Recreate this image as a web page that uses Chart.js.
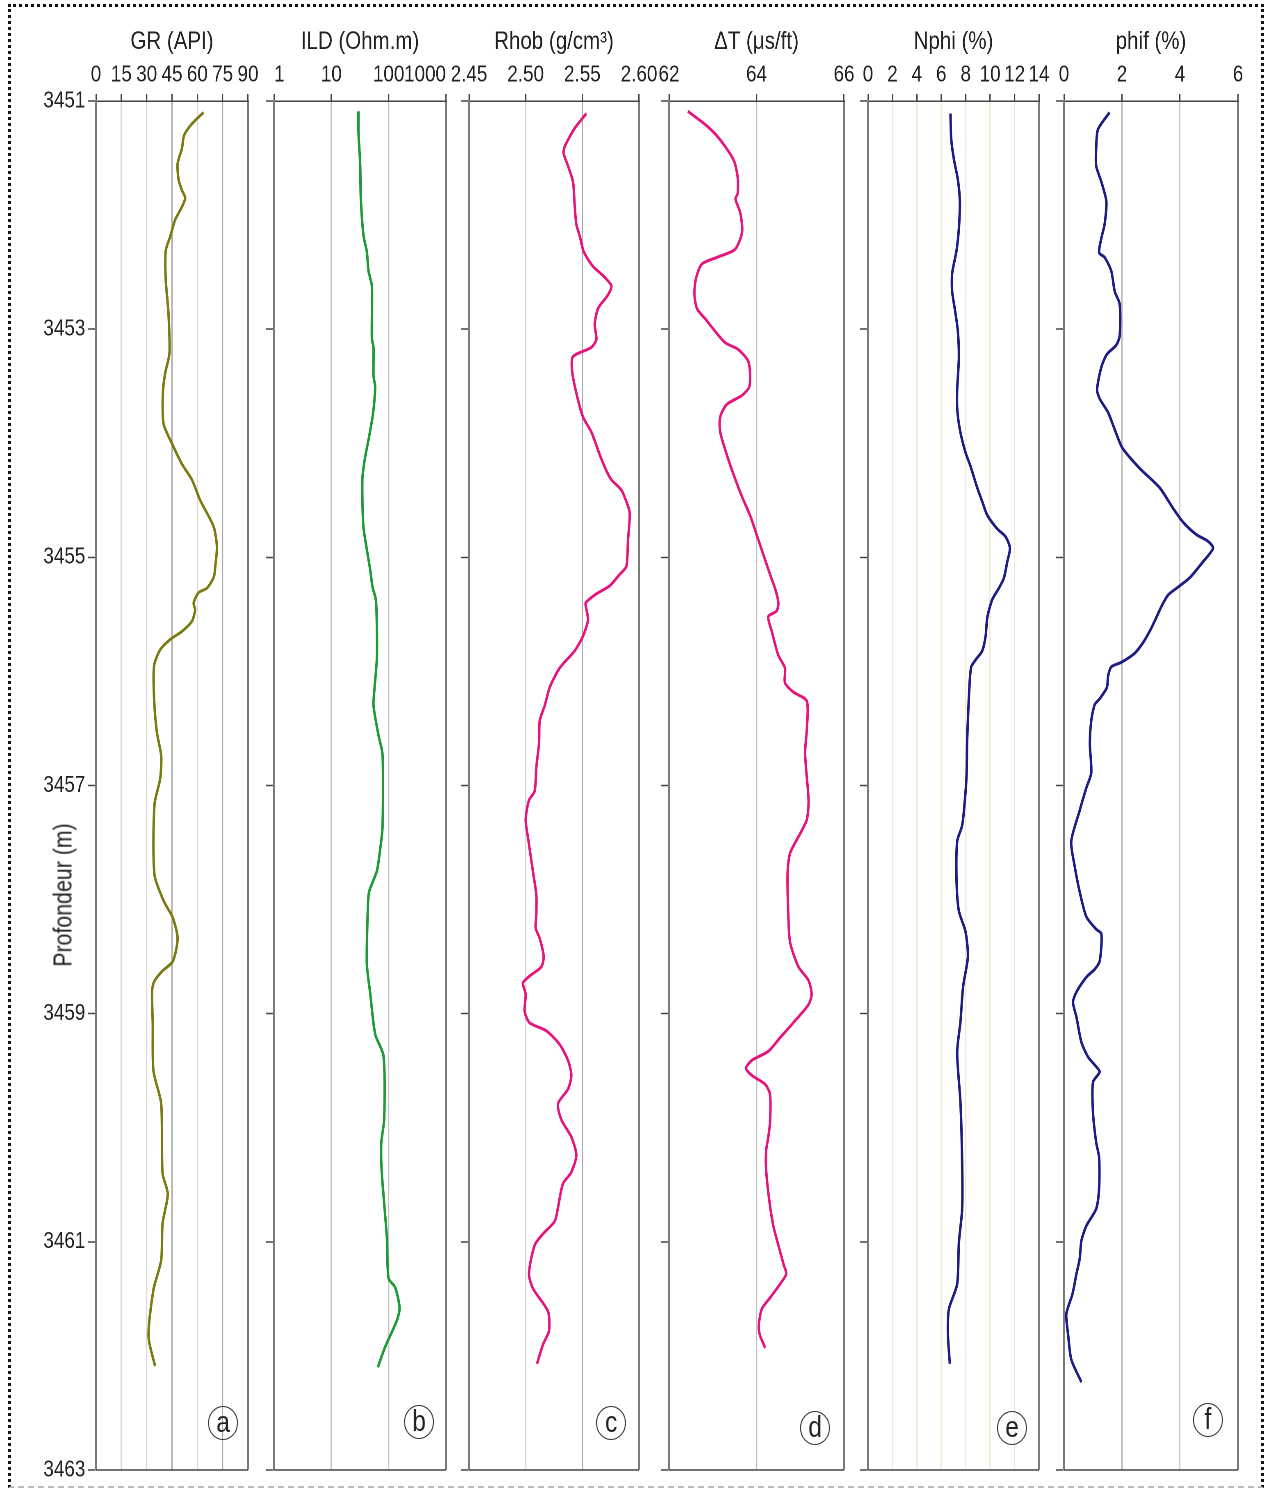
<!DOCTYPE html>
<html>
<head>
<meta charset="utf-8">
<script src="https://cdn.jsdelivr.net/npm/chart.js@4"></script>
<style>
  html, body { margin:0; padding:0; background:#fff; }
  body { width:1269px; height:1488px; position:relative; overflow:hidden;
         font-family:"Liberation Sans Narrow","Liberation Sans",Arial,sans-serif; color:#222; }
  #wrap canvas { position:absolute; top:0; transform-origin:0 0; }
  #frame { position:absolute; left:8px; top:4px; width:1250px; height:1479px;
           border-top:3px dotted #111; border-left:3px dotted #111; border-right:3px dotted #111;
           border-bottom:2px dashed #bbb; box-sizing:content-box; }
  #ytitle { position:absolute; left:63px; top:895px; transform:translate(-50%,-50%) rotate(-90deg) scaleX(0.82);
            font-size:26px; white-space:nowrap; color:#222; }
  .tag { position:absolute; width:28px; height:32px; border:1.3px solid #333; border-radius:50%;
         transform:translate(-50%,-50%); text-align:center; line-height:31px; font-size:29px; color:#222; }
  .tag span { display:inline-block; transform:scaleX(0.85); }
</style>
</head>
<body>
<div id="frame"></div>
<div id="wrap"></div>
<div id="ytitle">Profondeur (m)</div>
<script>
// ---------------- DATA ----------------
const trackTitles = ["GR (API)", "ILD (Ohm.m)", "Rhob (g/cm\u00B3)", "\u0394T (\u03BCs/ft)", "Nphi (%)", "phif (%)"];
const panelLetters = ["a", "b", "c", "d", "e", "f"];
const depthTicks = [3451, 3453, 3455, 3457, 3459, 3461, 3463];
const grTicks = [0, 15, 30, 45, 60, 75, 90];
const ildTicks = [1, 10, 100, 1000];
const rhobTicks = [2.45, 2.50, 2.55, 2.60];
const dtTicks = [62, 64, 66];
const nphiTicks = [0, 2, 4, 6, 8, 10, 12, 14];
const phifTicks = [0, 2, 4, 6];

const grDepth = [3451.10,3451.20,3451.30,3451.42,3451.55,3451.69,3451.78,3451.85,3451.93,3452.04,3452.19,3452.31,3452.57,3452.86,3453.21,3453.39,3453.56,3453.83,3454.00,3454.18,3454.32,3454.50,3454.73,3454.91,3455.08,3455.17,3455.27,3455.31,3455.40,3455.46,3455.56,3455.65,3455.72,3455.81,3455.95,3456.24,3456.53,3456.74,3456.94,3457.17,3457.78,3458.01,3458.16,3458.34,3458.54,3458.63,3458.72,3458.80,3459.09,3459.50,3459.79,3460.40,3460.58,3460.84,3461.16,3461.42,3461.83,3462.09];
const grValues = [63.7,56.8,52.2,50.8,48.3,48.9,50.8,52.8,50.8,46.9,43.9,41.3,41.3,42.9,43.5,40.9,39.6,40.0,44.9,50.8,56.8,61.7,69.6,71.6,70.6,69.8,65.7,60.7,57.8,58.7,56.8,50.8,43.9,38.0,34.4,34.4,36.0,38.6,38.0,34.6,34.6,40.0,45.5,48.3,45.5,39.0,34.4,33.2,33.6,34.0,38.6,39.4,42.5,39.4,38.6,34.0,31.1,35.0];

const ildDepth = [3451.09,3451.27,3451.55,3451.86,3452.18,3452.32,3452.49,3452.62,3453.08,3453.16,3453.41,3453.51,3453.75,3453.97,3454.12,3454.30,3454.52,3454.74,3454.93,3455.11,3455.26,3455.37,3455.60,3455.89,3456.15,3456.30,3456.56,3456.73,3457.36,3457.56,3457.75,3457.93,3458.08,3458.56,3458.82,3459.18,3459.37,3459.92,3460.14,3460.40,3460.96,3461.32,3461.40,3461.58,3461.69,3461.92,3462.10];
const ildValues = [29.7,29.7,31.8,32.7,36.4,41.6,44.5,50.9,50.9,54.4,54.4,58.2,53.0,44.5,38.9,34.9,34.9,36.4,41.6,47.6,52.3,59.7,62.2,62.2,56.6,54.4,66.5,78.2,78.2,71.1,62.2,45.7,43.3,41.6,47.6,58.2,81.3,83.6,74.1,76.0,93.0,99.5,130,155,139,86.9,64.7];

const rhobDepth = [3451.11,3451.24,3451.40,3451.46,3451.57,3451.71,3451.91,3452.08,3452.18,3452.32,3452.45,3452.53,3452.62,3452.70,3452.82,3452.96,3453.09,3453.16,3453.24,3453.36,3453.56,3453.77,3453.90,3454.10,3454.24,3454.32,3454.41,3454.51,3454.61,3454.85,3455.08,3455.15,3455.25,3455.32,3455.40,3455.45,3455.55,3455.69,3455.82,3455.97,3456.14,3456.30,3456.43,3456.63,3456.84,3457.05,3457.13,3457.30,3457.46,3457.76,3457.96,3458.13,3458.25,3458.34,3458.50,3458.59,3458.67,3458.73,3458.83,3458.98,3459.08,3459.15,3459.27,3459.41,3459.54,3459.66,3459.79,3459.93,3460.08,3460.24,3460.39,3460.49,3460.70,3460.82,3460.93,3461.03,3461.28,3461.41,3461.61,3461.78,3461.90,3462.07];
const rhobValues = [2.5535,2.5432,2.5344,2.5335,2.5374,2.5418,2.5432,2.5447,2.5476,2.5512,2.5594,2.5682,2.5756,2.5726,2.5638,2.5609,2.5624,2.5579,2.5418,2.5409,2.5447,2.5506,2.5579,2.5653,2.5712,2.5756,2.5844,2.5888,2.5918,2.5903,2.5888,2.5829,2.5741,2.5624,2.5529,2.5535,2.5550,2.5506,2.5432,2.5300,2.5212,2.5168,2.5124,2.5118,2.5094,2.5079,2.5029,2.5000,2.5021,2.5065,2.5094,2.5094,2.5088,2.5124,2.5159,2.5138,2.5035,2.4976,2.5000,2.4991,2.5035,2.5182,2.5300,2.5374,2.5403,2.5374,2.5285,2.5315,2.5403,2.5447,2.5403,2.5329,2.5285,2.5256,2.5153,2.5079,2.5029,2.5065,2.5197,2.5206,2.5153,2.5100];

const dtDepth = [3451.09,3451.22,3451.34,3451.52,3451.67,3451.81,3451.86,3451.98,3452.15,3452.30,3452.37,3452.43,3452.55,3452.69,3452.82,3452.91,3453.04,3453.12,3453.18,3453.29,3453.50,3453.58,3453.66,3453.77,3453.90,3454.10,3454.31,3454.47,3454.64,3454.81,3454.98,3455.15,3455.28,3455.40,3455.47,3455.52,3455.65,3455.86,3455.97,3456.10,3456.18,3456.26,3456.51,3456.72,3457.13,3457.30,3457.42,3457.59,3457.76,3458.17,3458.38,3458.59,3458.71,3458.83,3458.92,3459.08,3459.21,3459.33,3459.41,3459.48,3459.54,3459.62,3459.71,3459.95,3460.08,3460.20,3460.37,3460.66,3460.87,3461.03,3461.20,3461.28,3461.37,3461.49,3461.59,3461.74,3461.82,3461.93];
const dtValues = [62.43,62.87,63.17,63.48,63.57,63.57,63.52,63.63,63.67,63.51,63.10,62.75,62.62,62.58,62.64,62.83,63.10,63.29,63.59,63.82,63.84,63.67,63.32,63.17,63.17,63.32,63.51,63.67,63.86,64.01,64.16,64.31,64.43,64.50,64.46,64.27,64.35,64.50,64.65,64.65,64.84,65.15,65.15,65.11,65.19,65.15,65.00,64.77,64.71,64.73,64.77,64.96,65.19,65.26,65.19,64.84,64.54,64.27,63.89,63.76,63.89,64.20,64.31,64.31,64.27,64.22,64.22,64.30,64.39,64.50,64.62,64.68,64.54,64.31,64.12,64.05,64.08,64.20];

const nphiDepth = [3451.11,3451.33,3451.51,3451.69,3451.88,3452.12,3452.31,3452.51,3452.67,3452.86,3453.02,3453.25,3453.53,3453.69,3453.88,3454.08,3454.20,3454.39,3454.51,3454.63,3454.75,3454.82,3454.92,3455.04,3455.18,3455.27,3455.37,3455.53,3455.69,3455.82,3455.90,3455.96,3456.12,3456.60,3456.91,3457.13,3457.35,3457.49,3457.84,3458.10,3458.28,3458.50,3458.76,3459.07,3459.34,3459.78,3460.31,3460.71,3461.01,3461.37,3461.59,3461.81,3462.07];
const nphiValues = [6.75,6.81,7.03,7.36,7.52,7.44,7.25,6.89,6.89,7.16,7.36,7.44,7.30,7.30,7.52,7.98,8.39,8.94,9.35,9.76,10.58,11.27,11.62,11.40,11.13,10.72,10.17,9.76,9.63,9.35,8.80,8.45,8.31,8.12,8.07,7.93,7.71,7.30,7.25,7.44,7.98,8.18,7.79,7.57,7.30,7.57,7.71,7.71,7.44,7.30,6.62,6.54,6.70];

const phifDepth = [3451.10,3451.25,3451.41,3451.57,3451.71,3451.88,3452.08,3452.20,3452.33,3452.37,3452.49,3452.67,3452.78,3453.06,3453.14,3453.22,3453.33,3453.53,3453.61,3453.73,3453.88,3454.04,3454.22,3454.39,3454.57,3454.69,3454.80,3454.86,3454.92,3455.04,3455.18,3455.25,3455.33,3455.43,3455.53,3455.65,3455.75,3455.84,3455.92,3455.96,3456.04,3456.14,3456.24,3456.29,3456.43,3456.63,3456.89,3457.02,3457.22,3457.49,3457.71,3457.93,3458.15,3458.26,3458.30,3458.54,3458.61,3458.68,3458.81,3458.90,3459.03,3459.25,3459.38,3459.45,3459.51,3459.60,3459.87,3460.13,3460.26,3460.53,3460.71,3460.86,3460.99,3461.15,3461.28,3461.46,3461.63,3461.81,3462.03,3462.23];
const phifValues = [1.57,1.17,1.11,1.11,1.29,1.46,1.40,1.29,1.21,1.40,1.63,1.75,1.92,1.92,1.80,1.48,1.29,1.14,1.23,1.52,1.75,2.01,2.61,3.30,3.76,4.10,4.56,4.97,5.14,4.79,4.33,3.99,3.59,3.36,3.18,2.95,2.72,2.44,1.98,1.63,1.52,1.48,1.23,1.06,0.94,0.89,0.94,0.77,0.54,0.25,0.37,0.54,0.77,1.11,1.29,1.23,1.06,0.77,0.43,0.31,0.43,0.60,0.83,1.06,1.23,1.00,1.00,1.11,1.21,1.21,1.11,0.77,0.60,0.54,0.43,0.29,0.08,0.14,0.25,0.60];

// ---------------- LAYOUT / STYLE ----------------
// Text in the reference is a narrow (condensed) face; the canvases are drawn wide and
// squeezed horizontally by K so that Liberation Sans takes the proportions of a narrow face.
const K = 0.82;
const FONT = '"Liberation Sans", Arial, sans-serif';
const TOP = 101, BOTTOM = 1470, H = 1488;
const YAXW_PAGE = 96;                 // page px to the left of each track
const YAXW = YAXW_PAGE / K;           // in canvas units
const PADR = 50;
const FRAME = '#7b7b7b';

const tracks = [
  { L:96,  R:248,  type:'linear',      min:0,    max:90,   ticks:grTicks,   fmt:v=>String(v),    color:'#7b7b14', depth:grDepth,   values:grValues,   align:'center',
    grid:v => (v===45||v===75) ? '#a9a9a9' : '#d9d9d9', tag:[223,1423] },
  { L:274, R:446,  type:'logarithmic', min:1,    max:1000, ticks:ildTicks,  fmt:v=>String(v),    color:'#1e9a36', depth:ildDepth,  values:ildValues,  align:'inner',
    grid:v => '#c4c4c4', tag:[419,1422] },
  { L:469, R:639,  type:'linear',      min:2.45, max:2.60, ticks:rhobTicks, fmt:v=>v.toFixed(2), color:'#e5157f', depth:rhobDepth, values:rhobValues, align:'center',
    grid:v => Math.abs(v-2.55)<1e-6 ? '#a9a9a9' : '#d6d6d6', tag:[611,1423] },
  { L:669, R:844,  type:'linear',      min:62,   max:66,   ticks:dtTicks,   fmt:v=>String(v),    color:'#e5157f', depth:dtDepth,   values:dtValues,   align:'center',
    grid:v => '#bdbdbd', tag:[815,1428] },
  { L:868, R:1039, type:'linear',      min:0,    max:14,   ticks:nphiTicks, fmt:v=>String(v),    color:'#1c1c84', depth:nphiDepth, values:nphiValues, align:'center',
    grid:v => '#efe9d6', tag:[1012,1428] },
  { L:1064,R:1238, type:'linear',      min:0,    max:6,    ticks:phifTicks, fmt:v=>String(v),    color:'#1c1c84', depth:phifDepth, values:phifValues, align:'center',
    grid:v => v===2 ? '#b7b7b7' : '#d0d0d0', tag:[1208,1420] }
];

const frameBottom = {
  id:'frameBottom',
  afterDraw(chart) {
    const {ctx, chartArea:a} = chart;
    ctx.save();
    ctx.strokeStyle = '#444'; ctx.lineWidth = 1.5;
    ctx.beginPath(); ctx.moveTo(a.left, a.bottom); ctx.lineTo(a.right, a.bottom); ctx.stroke();
    ctx.restore();
  }
};

const wrap = document.getElementById('wrap');
tracks.forEach((t, i) => {
  const c = document.createElement('canvas');
  const w = Math.round((t.R - t.L) / K + YAXW + PADR);
  c.width = w; c.height = H;
  c.style.left = (t.L - YAXW_PAGE) + 'px';
  c.style.width = w + 'px'; c.style.height = H + 'px';
  c.style.transform = 'scaleX(' + K + ')';
  wrap.appendChild(c);

  const isEdge = v => Math.abs(v - t.min) < 1e-9 || Math.abs(v - t.max) < 1e-9;
  const padR = w - YAXW - (t.R - t.L) / K;

  new Chart(c, {
    type:'line',
    data:{
      datasets:[{
        data: t.depth.map((d, k) => ({ x: t.values[k], y: d })),
        borderColor: t.color, borderWidth: 3, pointRadius: 0, tension: 0.25, fill: false
      }]
    },
    options:{
      responsive:false, animation:false, devicePixelRatio:2, indexAxis:'y',
      layout:{ padding:{ left:0, right:padR, top:0, bottom:H - BOTTOM } },
      plugins:{ legend:{display:false}, tooltip:{enabled:false}, title:{display:false} },
      scales:{
        x:{
          type:t.type, position:'top', min:t.min, max:t.max,
          afterBuildTicks: s => { s.ticks = t.ticks.map(v => ({ value:v })); },
          afterFit: s => { s.height = TOP; s.paddingLeft = 0; s.paddingRight = 0; },
          ticks:{ autoSkip:false, maxRotation:0, minRotation:0, padding:5, color:'#222', align:t.align,
                  font:{ family:FONT, size:23 }, callback: v => t.fmt(v) },
          grid:{ display:true, drawOnChartArea:true, drawTicks:true, tickLength:7,
                 color: ctx => isEdge(ctx.tick.value) ? FRAME : t.grid(ctx.tick.value),
                 lineWidth: ctx => isEdge(ctx.tick.value) ? 2.5 : 1.6,
                 tickColor:'#444', tickWidth:1.6 },
          border:{ display:true, color:'#444', width:1.5 },
          title:{ display:true, text:trackTitles[i], color:'#222', font:{ family:FONT, size:25 },
                  padding:{ top:27, bottom:0 } }
        },
        y:{
          type:'linear', position:'left', reverse:true, min:depthTicks[0], max:depthTicks[depthTicks.length-1],
          afterBuildTicks: s => { s.ticks = depthTicks.map(v => ({ value:v })); },
          afterFit: s => { s.width = YAXW; s.paddingTop = 0; s.paddingBottom = 0; },
          ticks:{ display: i === 0, padding:3, color:'#222', font:{ family:FONT, size:23 },
                  callback: v => String(v) },
          grid:{ display:true, drawOnChartArea:false, drawTicks:true, tickLength:10, tickColor:'#444', tickWidth:1.5 },
          border:{ display:true, color:FRAME, width:2.5 }
        }
      }
    },
    plugins:[frameBottom]
  });

  const tag = document.createElement('div');
  tag.className = 'tag';
  tag.style.left = t.tag[0] + 'px';
  tag.style.top = t.tag[1] + 'px';
  const sp = document.createElement('span');
  sp.textContent = panelLetters[i];
  tag.appendChild(sp);
  document.body.appendChild(tag);
});
</script>
</body>
</html>
